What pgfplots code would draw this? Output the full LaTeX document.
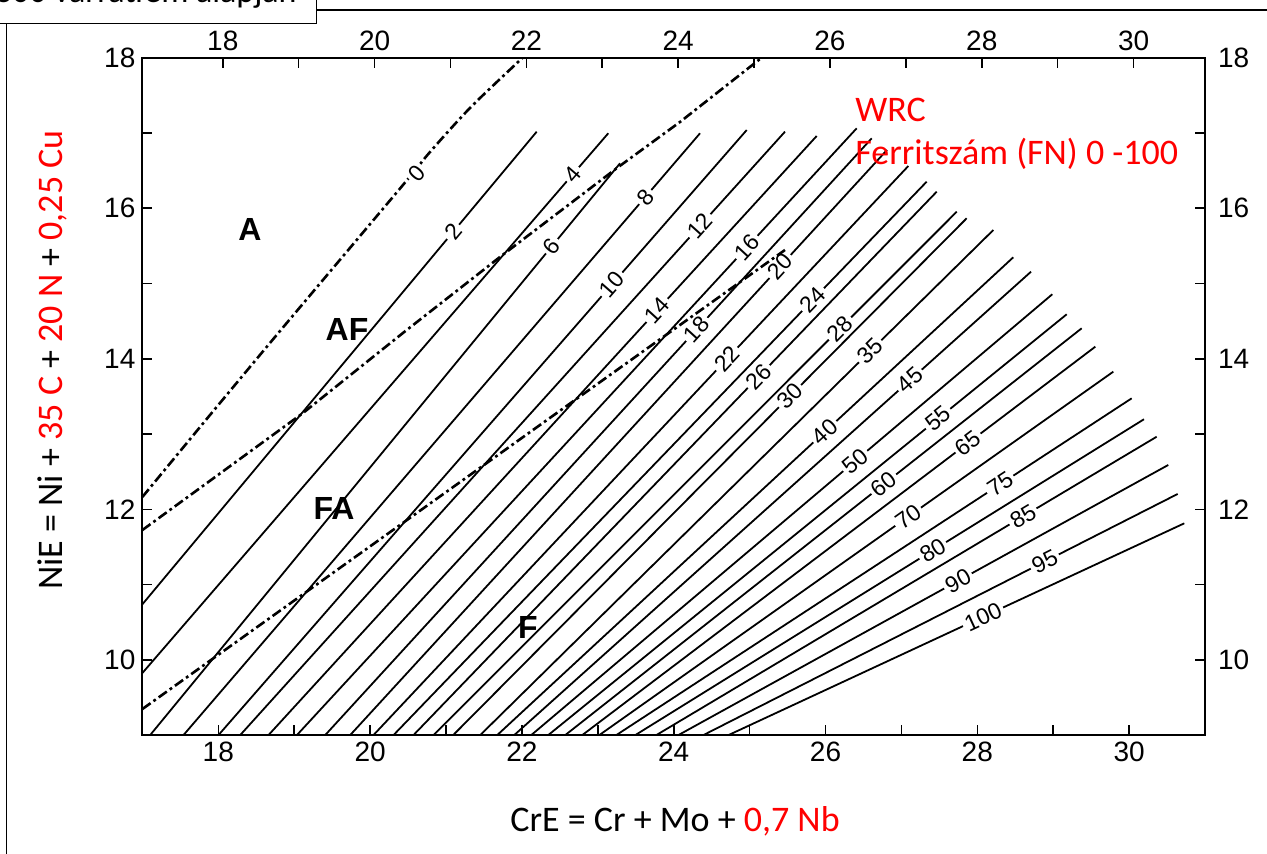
\documentclass[border=0pt]{standalone}
\usepackage{pgfplots}
\pgfplotsset{compat=1.18}
\usepackage{fontspec}
\setmainfont{Liberation Sans}
\newfontfamily\calibri{Carlito}
\tikzset{
  fnlab/.style={sloped, fill=white, inner sep=1.4pt, font=\fontsize{11.5}{13}\selectfont},
}
\pgfplotsset{
  fnline/.style={black, line width=0.9pt, no markers},
  ddash/.style={black, line width=1.3pt, no markers, dash pattern=on 5pt off 1.8pt on 1.4pt off 1.8pt},
}
\begin{document}
\begin{tikzpicture}
\path[use as bounding box] (0,0) rectangle (633.5pt,427pt);
\clip (0,0) rectangle (633.5pt,427pt);
\begin{axis}[
  at={(71.2pt,59.35pt)}, anchor=south west,
  scale only axis, width=531.3pt, height=338.85pt,
  xmin=17, xmax=31, ymin=9, ymax=18,
  xtick={18,20,...,30}, minor xtick={19,21,...,29},
  ytick={10,12,...,18}, minor ytick={11,13,...,17},
  xtick pos=left, ytick pos=left,
  tick align=inside,
  major tick length=5pt, minor tick length=5pt,
  every tick/.style={black, line width=0.8pt},
  axis line style={line width=1pt},
  tick label style={font=\fontsize{14}{16}\selectfont},
  /pgf/number format/assume math mode=true,
]
% iso-ferrite lines
\addplot[fnline] coordinates {(17,10.74) (22.195,17.016)} node[fnlab,pos=0.788] {2};
\addplot[fnline] coordinates {(17,9.827) (23.138,16.995)} node[fnlab,pos=0.924] {4};
\addplot[fnline] coordinates {(17.10,9) (23.293,16.596)} node[fnlab,pos=0.855] {6};
\addplot[fnline] coordinates {(17.539,9) (24.347,16.995)} node[fnlab,pos=0.894] {8};
\addplot[fnline] coordinates {(18.0,9) (24.962,17.038)} node[fnlab,pos=0.745] {10};
\addplot[fnline] coordinates {(18.286,9) (25.466,17.016)} node[fnlab,pos=0.844] {12};
\addplot[fnline] coordinates {(18.659,9) (25.884,16.959)} node[fnlab,pos=0.709] {14};
\addplot[fnline] coordinates {(19.033,9) (26.411,17.061)} node[fnlab,pos=0.804] {16};
\addplot[fnline] coordinates {(19.406,9) (26.609,16.928)} node[fnlab,pos=0.680] {18};
\addplot[fnline] coordinates {(19.735,9) (26.810,16.773)} node[fnlab,pos=0.801] {20};
\addplot[fnline] coordinates {(20.042,9) (27.091,16.560)} node[fnlab,pos=0.661] {22};
\addplot[fnline] coordinates {(20.306,9) (27.333,16.352)} node[fnlab,pos=0.787] {24};
\addplot[fnline] coordinates {(20.569,9) (27.465,16.219)} node[fnlab,pos=0.660] {26};
\addplot[fnline] coordinates {(20.833,9) (27.729,15.953)} node[fnlab,pos=0.777] {28};
\addplot[fnline] coordinates {(21.092,9) (27.860,15.866)} node[fnlab,pos=0.656] {30};
\addplot[fnline] coordinates {(21.448,9) (28.211,15.710)} node[fnlab,pos=0.760] {35};
\addplot[fnline] coordinates {(21.672,9) (28.474,15.348)} node[fnlab,pos=0.635] {40};
\addplot[fnline] coordinates {(21.896,9) (28.708,15.157)} node[fnlab,pos=0.766] {45};
\addplot[fnline] coordinates {(22.120,9) (28.988,14.857)} node[fnlab,pos=0.622] {50};
\addplot[fnline] coordinates {(22.344,9) (29.178,14.591)} node[fnlab,pos=0.752] {55};
\addplot[fnline] coordinates {(22.568,9) (29.375,14.405)} node[fnlab,pos=0.617] {60};
\addplot[fnline] coordinates {(22.792,9) (29.555,14.161)} node[fnlab,pos=0.752] {65};
\addplot[fnline] coordinates {(23.016,9) (29.792,13.829)} node[fnlab,pos=0.601] {70};
\addplot[fnline] coordinates {(23.240,9) (30.034,13.475)} node[fnlab,pos=0.745] {75};
\addplot[fnline] coordinates {(23.490,9) (30.196,13.197)} node[fnlab,pos=0.585] {80};
\addplot[fnline] coordinates {(23.767,9) (30.363,12.965)} node[fnlab,pos=0.733] {85};
\addplot[fnline] coordinates {(24.057,9) (30.516,12.590)} node[fnlab,pos=0.571] {90};
\addplot[fnline] coordinates {(24.386,9) (30.640,12.205)} node[fnlab,pos=0.720] {95};
\addplot[fnline] coordinates {(24.716,9) (30.727,11.815)} node[fnlab,pos=0.559] {100};
% phase boundaries
\addplot[ddash, smooth] coordinates {(17,12.165) (17.891,13.254) (18.813,14.369) (20.433,16.308) (20.789,16.746) (21.316,17.331) (21.931,17.924) (22.014,18.0)};
\addplot[ddash] coordinates {(17,11.726) (19.116,13.280) (20.433,14.343) (21.711,15.352) (23.253,16.534) (24.083,17.145) (25.137,17.981)};
\addplot[ddash] coordinates {(17,9.349) (25.466,15.445)};
\node[rotate=48, fill=white, inner sep=1.4pt, font=\fontsize{11.5}{13}\selectfont] at (axis cs:20.614,16.463) {0};
\end{axis}
\begin{axis}[
  at={(71.2pt,59.35pt)}, anchor=south west,
  scale only axis, width=531.3pt, height=338.85pt,
  xmin=16.941, xmax=30.941, ymin=9, ymax=18,
  xtick={18,20,...,30}, minor xtick={19,21,...,29},
  ytick={10,12,...,18}, minor ytick={11,13,...,17},
  xtick pos=right, ytick pos=right,
  xticklabel pos=right, yticklabel pos=right,
  tick align=inside,
  major tick length=5pt, minor tick length=5pt,
  every tick/.style={black, line width=0.8pt},
  axis line style={draw=none},
  tick label style={font=\fontsize{14}{16}\selectfont},
  yticklabel style={xshift=3pt},
  /pgf/number format/assume math mode=true,
]
\addplot[draw=none] coordinates {(20,12)};
\end{axis}
\begin{scope}[x=0.5pt,y=-0.5pt,yshift=427pt]
  \draw[line width=0.6pt, fill=white] (-10,-40) rectangle (316.7,23.3);
  \node[anchor=base east, inner sep=0pt, font=\calibri\fontsize{17}{20}\selectfont] at (297,3) {300 varratfém alapján};
  \draw[line width=0.6pt] (316.7,10) -- (1290,10);
  \draw[line width=0.6pt] (6.7,23.3) -- (6.7,880);
  \node[anchor=base, inner sep=0pt, font=\calibri\fontsize{18}{22}\selectfont] at (675,832) {CrE = Cr + Mo + \textcolor{red}{0,7 Nb}};
  \node[anchor=base, rotate=90, inner sep=0pt, font=\calibri\fontsize{18}{22}\selectfont] at (62,360) {NiE = Ni + \textcolor{red}{35 C} + \textcolor{red}{20 N} + \textcolor{red}{0,25 Cu}};
  \node[anchor=base west, inner sep=0pt, text=red, font=\calibri\fontsize{18}{22}\selectfont] at (855,121.7) {WRC};
  \node[anchor=base west, inner sep=0pt, text=red, font=\calibri\fontsize{18}{22}\selectfont] at (855,165) {Ferritszám (FN) 0 -100};
  \node[font=\bfseries\fontsize{16}{19}\selectfont] at (250,230) {A};
  \node[font=\bfseries\fontsize{16}{19}\selectfont] at (347,330) {AF};
  \node[font=\bfseries\fontsize{16}{19}\selectfont] at (334,509) {FA};
  \node[font=\bfseries\fontsize{16}{19}\selectfont] at (528,628) {F};
\end{scope}
\end{tikzpicture}
\end{document}
